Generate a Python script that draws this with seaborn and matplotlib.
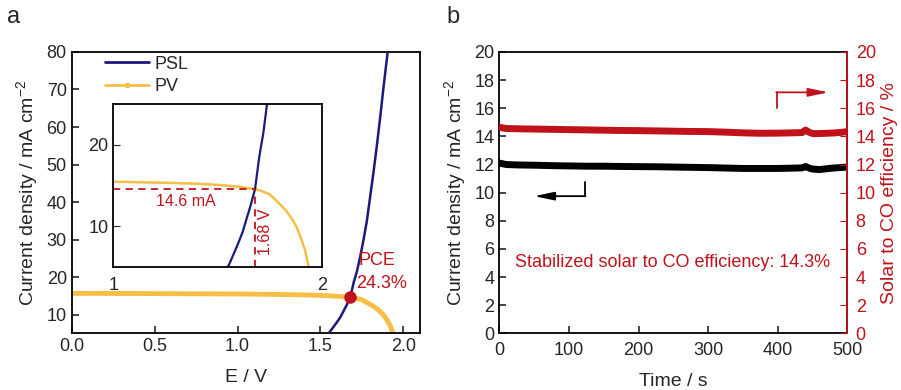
import numpy as np
import pandas as pd
import matplotlib
matplotlib.use("Agg")
import matplotlib.pyplot as plt
import seaborn as sns
from matplotlib.lines import Line2D

sns.set_style("ticks")
plt.rcParams['font.family'] = ['Liberation Sans', 'DejaVu Sans']
plt.rcParams['mathtext.fontset'] = 'custom'
plt.rcParams['mathtext.rm'] = 'Liberation Sans'

NAVY = "#1b1a7c"
GOLD = "#f6be45"
RED = "#c0121a"

# PV J-V curve (V, mA cm-2)
pv_v = [0.0, 0.1, 0.2, 0.3, 0.4, 0.5, 0.6, 0.7, 0.8, 0.9, 1.0, 1.1, 1.2, 1.3, 1.4,
        1.45, 1.5, 1.55, 1.6, 1.65, 1.68, 1.7, 1.75, 1.8, 1.83, 1.86, 1.88, 1.9, 1.92, 1.94]
pv_j = [15.65, 15.64, 15.63, 15.62, 15.6, 15.58, 15.56, 15.54, 15.52, 15.5, 15.48, 15.43,
        15.38, 15.32, 15.24, 15.18, 15.1, 15.0, 14.88, 14.7, 14.6, 14.45, 13.95, 12.7,
        11.9, 10.8, 9.9, 8.6, 7.1, 4.7]

# PSL polarization curve
psl_v = [1.54, 1.56, 1.58, 1.60, 1.62, 1.64, 1.66, 1.68, 1.70, 1.72, 1.74, 1.76, 1.78,
         1.80, 1.82, 1.84, 1.86, 1.88, 1.90, 1.91]
psl_j = [4.5, 5.6, 6.8, 8.0, 9.3, 11.0, 12.7, 14.6, 18.5, 21.5, 25.5, 30.0, 35.0,
         41.5, 48.0, 55.0, 62.5, 70.5, 78.0, 82.0]

op_v, op_j = 1.68, 14.6

# stability test
t_s = [0, 5, 10, 25, 50, 75, 100, 125, 150, 175, 200, 225, 250, 275, 300, 325, 350,
       375, 400, 420, 435, 440, 445, 450, 460, 470, 480, 490, 500]
cur = [12.1, 12.05, 12.0, 11.97, 11.95, 11.92, 11.9, 11.88, 11.88, 11.86, 11.85, 11.84,
       11.82, 11.8, 11.78, 11.75, 11.72, 11.72, 11.72, 11.74, 11.76, 11.86, 11.75, 11.68,
       11.64, 11.7, 11.75, 11.78, 11.82]
eff = [14.65, 14.6, 14.56, 14.54, 14.52, 14.5, 14.48, 14.46, 14.44, 14.42, 14.41, 14.39,
       14.37, 14.35, 14.34, 14.3, 14.25, 14.22, 14.23, 14.25, 14.27, 14.45, 14.3, 14.2,
       14.2, 14.22, 14.24, 14.28, 14.34]

pv = pd.DataFrame({"E": pv_v, "J": pv_j})
psl = pd.DataFrame({"E": psl_v, "J": psl_j})
stab = pd.DataFrame({"t": t_s, "cur": cur, "eff": eff})

fig = plt.figure(figsize=(9.01, 3.90), dpi=100)
ax1 = fig.add_axes([0.0796, 0.1454, 0.3865, 0.7213])
ax2 = fig.add_axes([0.5542, 0.1454, 0.3862, 0.7213])
ins = fig.add_axes([0.1258, 0.3146, 0.2313, 0.4187])

fs = 13
lab = 14

# ---- panel a
sns.lineplot(data=pv, x="E", y="J", ax=ax1, color=GOLD, lw=3.5, zorder=2)
sns.lineplot(data=psl, x="E", y="J", ax=ax1, color=NAVY, lw=1.8, zorder=3)
ax1.plot([op_v], [op_j], 'o', color=RED, ms=8, zorder=5)
ax1.text(1.73, 24.3, "PCE", color=RED, fontsize=fs, ha="left", va="center")
ax1.text(1.715, 18.3, "24.3%", color=RED, fontsize=fs, ha="left", va="center")
ax1.set_xlim(0, 2.1)
ax1.set_ylim(5, 80)
ax1.set_xticks([0, 0.5, 1.0, 1.5, 2.0])
ax1.set_xticklabels(["0.0", "0.5", "1.0", "1.5", "2.0"])
ax1.set_yticks(range(10, 81, 10))
ax1.set_xlabel("E / V", fontsize=lab, labelpad=10)
ax1.set_ylabel("Current density / mA cm$^{-2}$", fontsize=lab, labelpad=4)
handles = [Line2D([], [], color=NAVY, lw=2),
           Line2D([], [], color=GOLD, lw=2, marker='o', ms=3)]
ax1.legend(handles, ["PSL", "PV"], loc="upper left", bbox_to_anchor=(0.05, 1.045),
           frameon=False, fontsize=fs, handlelength=2.4, handletextpad=0.3,
           labelspacing=0.3)
fig.text(0.008, 0.94, "a", fontsize=17)

# ---- inset
sns.lineplot(data=pv, x="E", y="J", ax=ins, color=GOLD, lw=1.8)
sns.lineplot(data=psl, x="E", y="J", ax=ins, color=NAVY, lw=1.6)
ins.plot([1.0, op_v], [op_j, op_j], ls=(0, (4, 3)), color=RED, lw=1.3)
ins.plot([op_v, op_v], [5, op_j], ls=(0, (4, 3)), color=RED, lw=1.3)
ins.text(1.35, 13.1, "14.6 mA", color=RED, fontsize=11.5, ha="center", va="center")
ins.text(1.73, 9.4, "1.68 V", color=RED, fontsize=11.5, ha="center", va="center",
         rotation=90)
ins.set_xlim(1, 2)
ins.set_ylim(5, 25)
ins.set_xticks([1, 2])
ins.set_yticks([10, 20])
ins.set_xlabel("")
ins.set_ylabel("")
ins.tick_params(axis="x", length=0, pad=7, labelsize=fs)
ins.tick_params(axis="y", direction="in", length=5, labelsize=fs)

# ---- panel b
sns.lineplot(data=stab, x="t", y="cur", ax=ax2, color="black", lw=5)
ax2.set_xlim(0, 500)
ax2.set_ylim(0, 20)
ax2.set_xticks(range(0, 501, 100))
ax2.set_yticks(range(0, 21, 2))
ax2.set_xlabel("Time / s", fontsize=lab, labelpad=10)
ax2.set_ylabel("Current density / mA cm$^{-2}$", fontsize=lab, labelpad=4)
ax2r = ax2.twinx()
sns.lineplot(data=stab, x="t", y="eff", ax=ax2r, color=RED, lw=5)
ax2r.set_ylim(0, 20)
ax2r.set_yticks(range(0, 21, 2))
ax2r.set_ylabel("Solar to CO efficiency / %", fontsize=lab, color=RED, labelpad=4)
ax2r.tick_params(axis="y", colors=RED, direction="in", length=5, labelsize=fs, pad=6)
ax2r.spines["right"].set_color(RED)
ax2r.spines["right"].set_linewidth(1.3)
ax2.text(249, 5.0, "Stabilized solar to CO efficiency: 14.3%", color=RED,
         fontsize=fs, ha="center", va="center")
# guide arrows
ax2.plot([123, 123], [10.78, 9.75], color="black", lw=1.3)
ax2.annotate("", xy=(50, 9.75), xytext=(123.6, 9.75),
             arrowprops=dict(arrowstyle="-|>,head_length=1.2,head_width=0.25",
                             color="black", lw=1.3, shrinkA=0, shrinkB=0))
ax2r.plot([398.5, 398.5], [16.04, 17.13], color=RED, lw=1.3)
ax2r.annotate("", xy=(473, 17.13), xytext=(397.9, 17.13),
              arrowprops=dict(arrowstyle="-|>,head_length=1.2,head_width=0.25",
                              color=RED, lw=1.3, shrinkA=0, shrinkB=0))
fig.text(0.495, 0.94, "b", fontsize=17)

for a in (ax1, ax2, ins):
    for s in a.spines.values():
        s.set_linewidth(1.3)
        s.set_color("black")
for a in (ax1, ax2):
    a.tick_params(direction="in", length=5, width=1.2, labelsize=fs)
ax2.tick_params(axis="x", pad=6)
ax2.tick_params(axis="y", right=False)
ax2r.spines["right"].set_color(RED)
ax2r.spines["left"].set_visible(False)
ax2r.spines["top"].set_visible(False)
ax2r.spines["bottom"].set_visible(False)

fig.savefig("out.png", dpi=100)
